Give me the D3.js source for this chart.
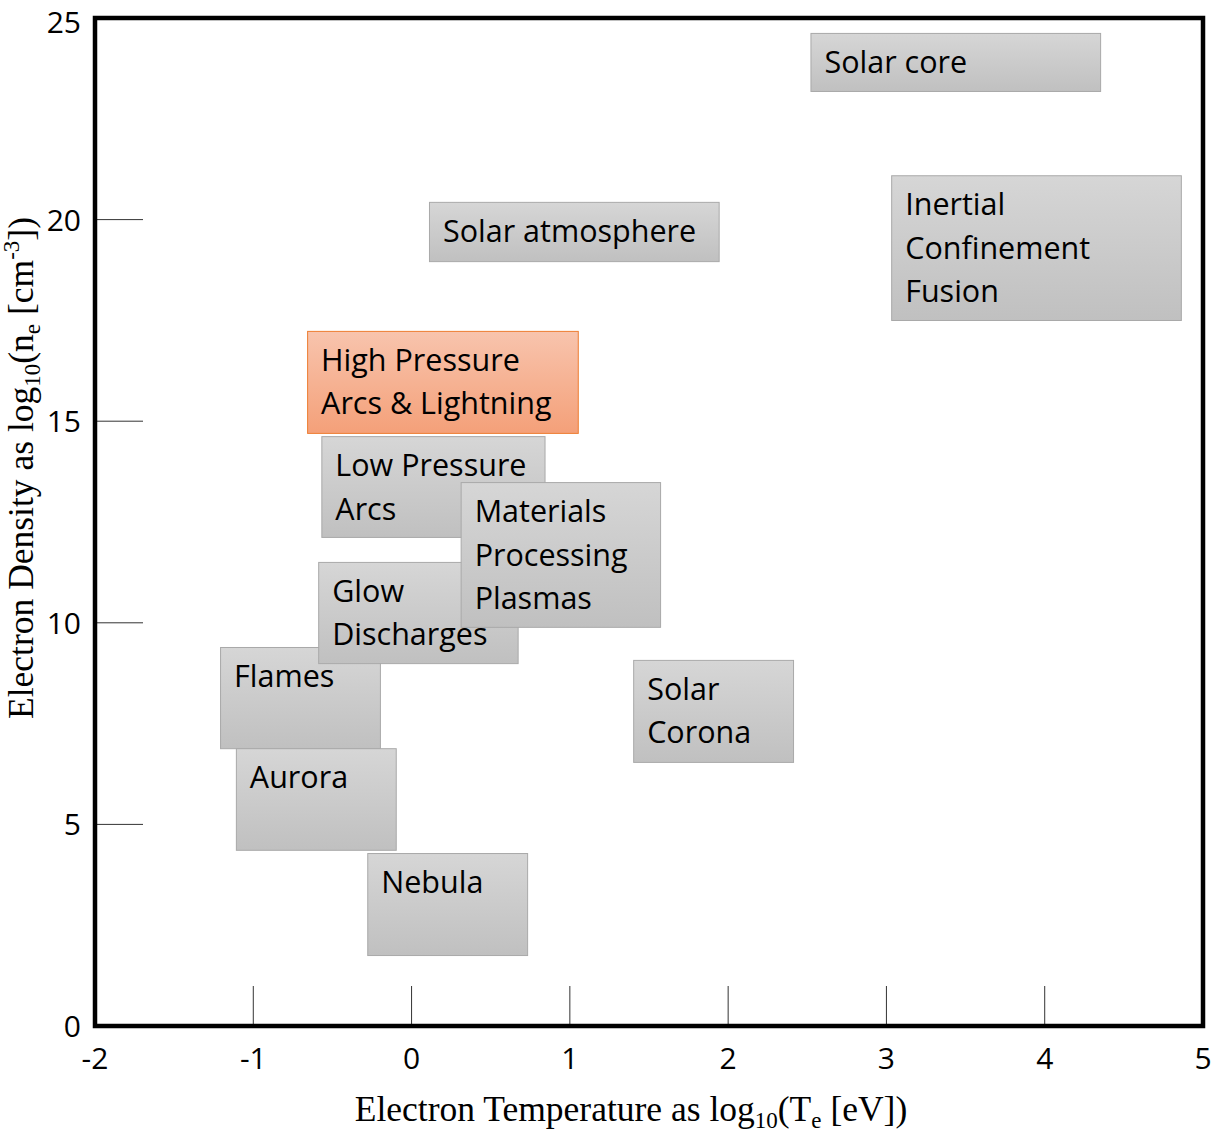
<!DOCTYPE html>
<html><head><meta charset="utf-8">
<script src="https://cdn.jsdelivr.net/npm/d3@7"></script>
<style>body{margin:0;background:#fff}</style>
</head><body><svg id="c" width="1225" height="1135"></svg>
<script>
const xTicks = [-2,-1,0,1,2,3,4,5];
const yTicks = [0,5,10,15,20,25];
const names = ["Flames","Aurora","Nebula","Glow Discharges","Low Pressure Arcs","Materials Processing Plasmas","High Pressure Arcs & Lightning","Solar Corona","Solar atmosphere","Inertial Confinement Fusion","Solar core"];
const labelLines = [["Flames"],["Aurora"],["Nebula"],["Glow","Discharges"],["Low Pressure","Arcs"],["Materials","Processing","Plasmas"],["High Pressure","Arcs & Lightning"],["Solar","Corona"],["Solar atmosphere"],["Inertial","Confinement","Fusion"],["Solar core"]];
const tMin = [-1.21,-1.11,-0.28,-0.59,-0.57,0.31,-0.66,1.40,0.11,3.03,2.52];
const tMax = [-0.20,-0.10,0.73,0.67,0.84,1.57,1.05,2.41,1.94,4.86,4.35];
const nMin = [6.89,4.37,1.76,9.00,12.13,9.90,14.71,6.55,18.97,17.51,23.19];
const nMax = [9.40,6.89,4.29,11.51,14.63,13.49,17.24,9.08,20.44,21.10,24.63];
const highlight = [false,false,false,false,false,false,true,false,false,false,false];

const svg = d3.select("#c");
const x = d3.scaleLinear().domain([-2,5]).range([95,1203]);
const y = d3.scaleLinear().domain([0,25]).range([1026,18]);

const defs = svg.append("defs");
const g1 = defs.append("linearGradient").attr("id","gGrey").attr("x1",0).attr("y1",0).attr("x2",0).attr("y2",1);
g1.append("stop").attr("offset","0%").attr("stop-color","#d6d6d6");
g1.append("stop").attr("offset","100%").attr("stop-color","#c0c0c0");
const g2 = defs.append("linearGradient").attr("id","gOrange").attr("x1",0).attr("y1",0).attr("x2",0).attr("y2",1);
g2.append("stop").attr("offset","0%").attr("stop-color","#f8c4ad");
g2.append("stop").attr("offset","100%").attr("stop-color","#f4a079");

const sans = "'Open Sans', Lato, sans-serif";

// ticks (inside)
svg.append("g").selectAll("line").data(yTicks.filter(d=>d>0&&d<25)).join("line")
  .attr("x1",x(-2)).attr("x2",x(-2)+48).attr("y1",d=>y(d)).attr("y2",d=>y(d))
  .attr("stroke","#333").attr("stroke-width",1);
svg.append("g").selectAll("line").data(xTicks.filter(d=>d>-2&&d<5)).join("line")
  .attr("x1",d=>x(d)).attr("x2",d=>x(d)).attr("y1",y(0)).attr("y2",y(0)-40)
  .attr("stroke","#333").attr("stroke-width",1);

// boxes
const data = names.map((n,i)=>({n,lines:labelLines[i],x0:tMin[i],x1:tMax[i],y0:nMin[i],y1:nMax[i],h:highlight[i]}));
const bx = svg.append("g").selectAll("g").data(data).join("g");
bx.append("rect")
  .attr("x",d=>x(d.x0)+0.5).attr("y",d=>y(d.y1)+0.5)
  .attr("width",d=>x(d.x1)-x(d.x0)).attr("height",d=>y(d.y0)-y(d.y1))
  .attr("fill",d=>d.h?"url(#gOrange)":"url(#gGrey)")
  .attr("stroke",d=>d.h?"#ed7d31":"#a9a9a9").attr("stroke-width",1);
bx.each(function(d){
  const t = d3.select(this).append("text")
    .attr("font-family",sans).attr("font-size",30.5).attr("fill","#000");
  d.lines.forEach((ln,j)=>{
    t.append("tspan").attr("x",x(d.x0)+14).attr("y",y(d.y1)+40+j*43.5).text(ln);
  });
});

// frame
svg.append("rect").attr("x",x(-2)).attr("y",y(25)).attr("width",x(5)-x(-2)).attr("height",y(0)-y(25))
  .attr("fill","none").attr("stroke","#000").attr("stroke-width",4.5);

// tick labels
svg.append("g").selectAll("text").data(yTicks).join("text")
  .attr("x",x(-2)-14).attr("y",d=>Math.max(y(d)+11,33)).attr("text-anchor","end")
  .attr("font-family",sans).attr("font-size",30).text(d=>d);
svg.append("g").selectAll("text").data(xTicks).join("text")
  .attr("x",d=>x(d)).attr("y",y(0)+43).attr("text-anchor","middle")
  .attr("font-family",sans).attr("font-size",30).text(d=>d);

// axis titles
const xt = svg.append("text").attr("x",631).attr("y",1121).attr("text-anchor","middle")
  .attr("font-family","'Liberation Serif', 'Times New Roman', serif").attr("font-size",35.5);
xt.append("tspan").text("Electron Temperature as log");
xt.append("tspan").attr("font-size",23).attr("dy",7).text("10");
xt.append("tspan").attr("dy",-7).text("(T");
xt.append("tspan").attr("font-size",23).attr("dy",7).text("e");
xt.append("tspan").attr("dy",-7).text(" [eV])");

const yt = svg.append("text").attr("transform","translate(33,468) rotate(-90)").attr("text-anchor","middle")
  .attr("font-family","'Liberation Serif', 'Times New Roman', serif").attr("font-size",35.5);
yt.append("tspan").text("Electron Density as log");
yt.append("tspan").attr("font-size",23).attr("dy",7).text("10");
yt.append("tspan").attr("dy",-7).text("(n");
yt.append("tspan").attr("font-size",23).attr("dy",7).text("e");
yt.append("tspan").attr("dy",-7).text(" [cm");
yt.append("tspan").attr("font-size",23).attr("dy",-14).text("-3");
yt.append("tspan").attr("dy",14).text("])");
</script></body></html>
